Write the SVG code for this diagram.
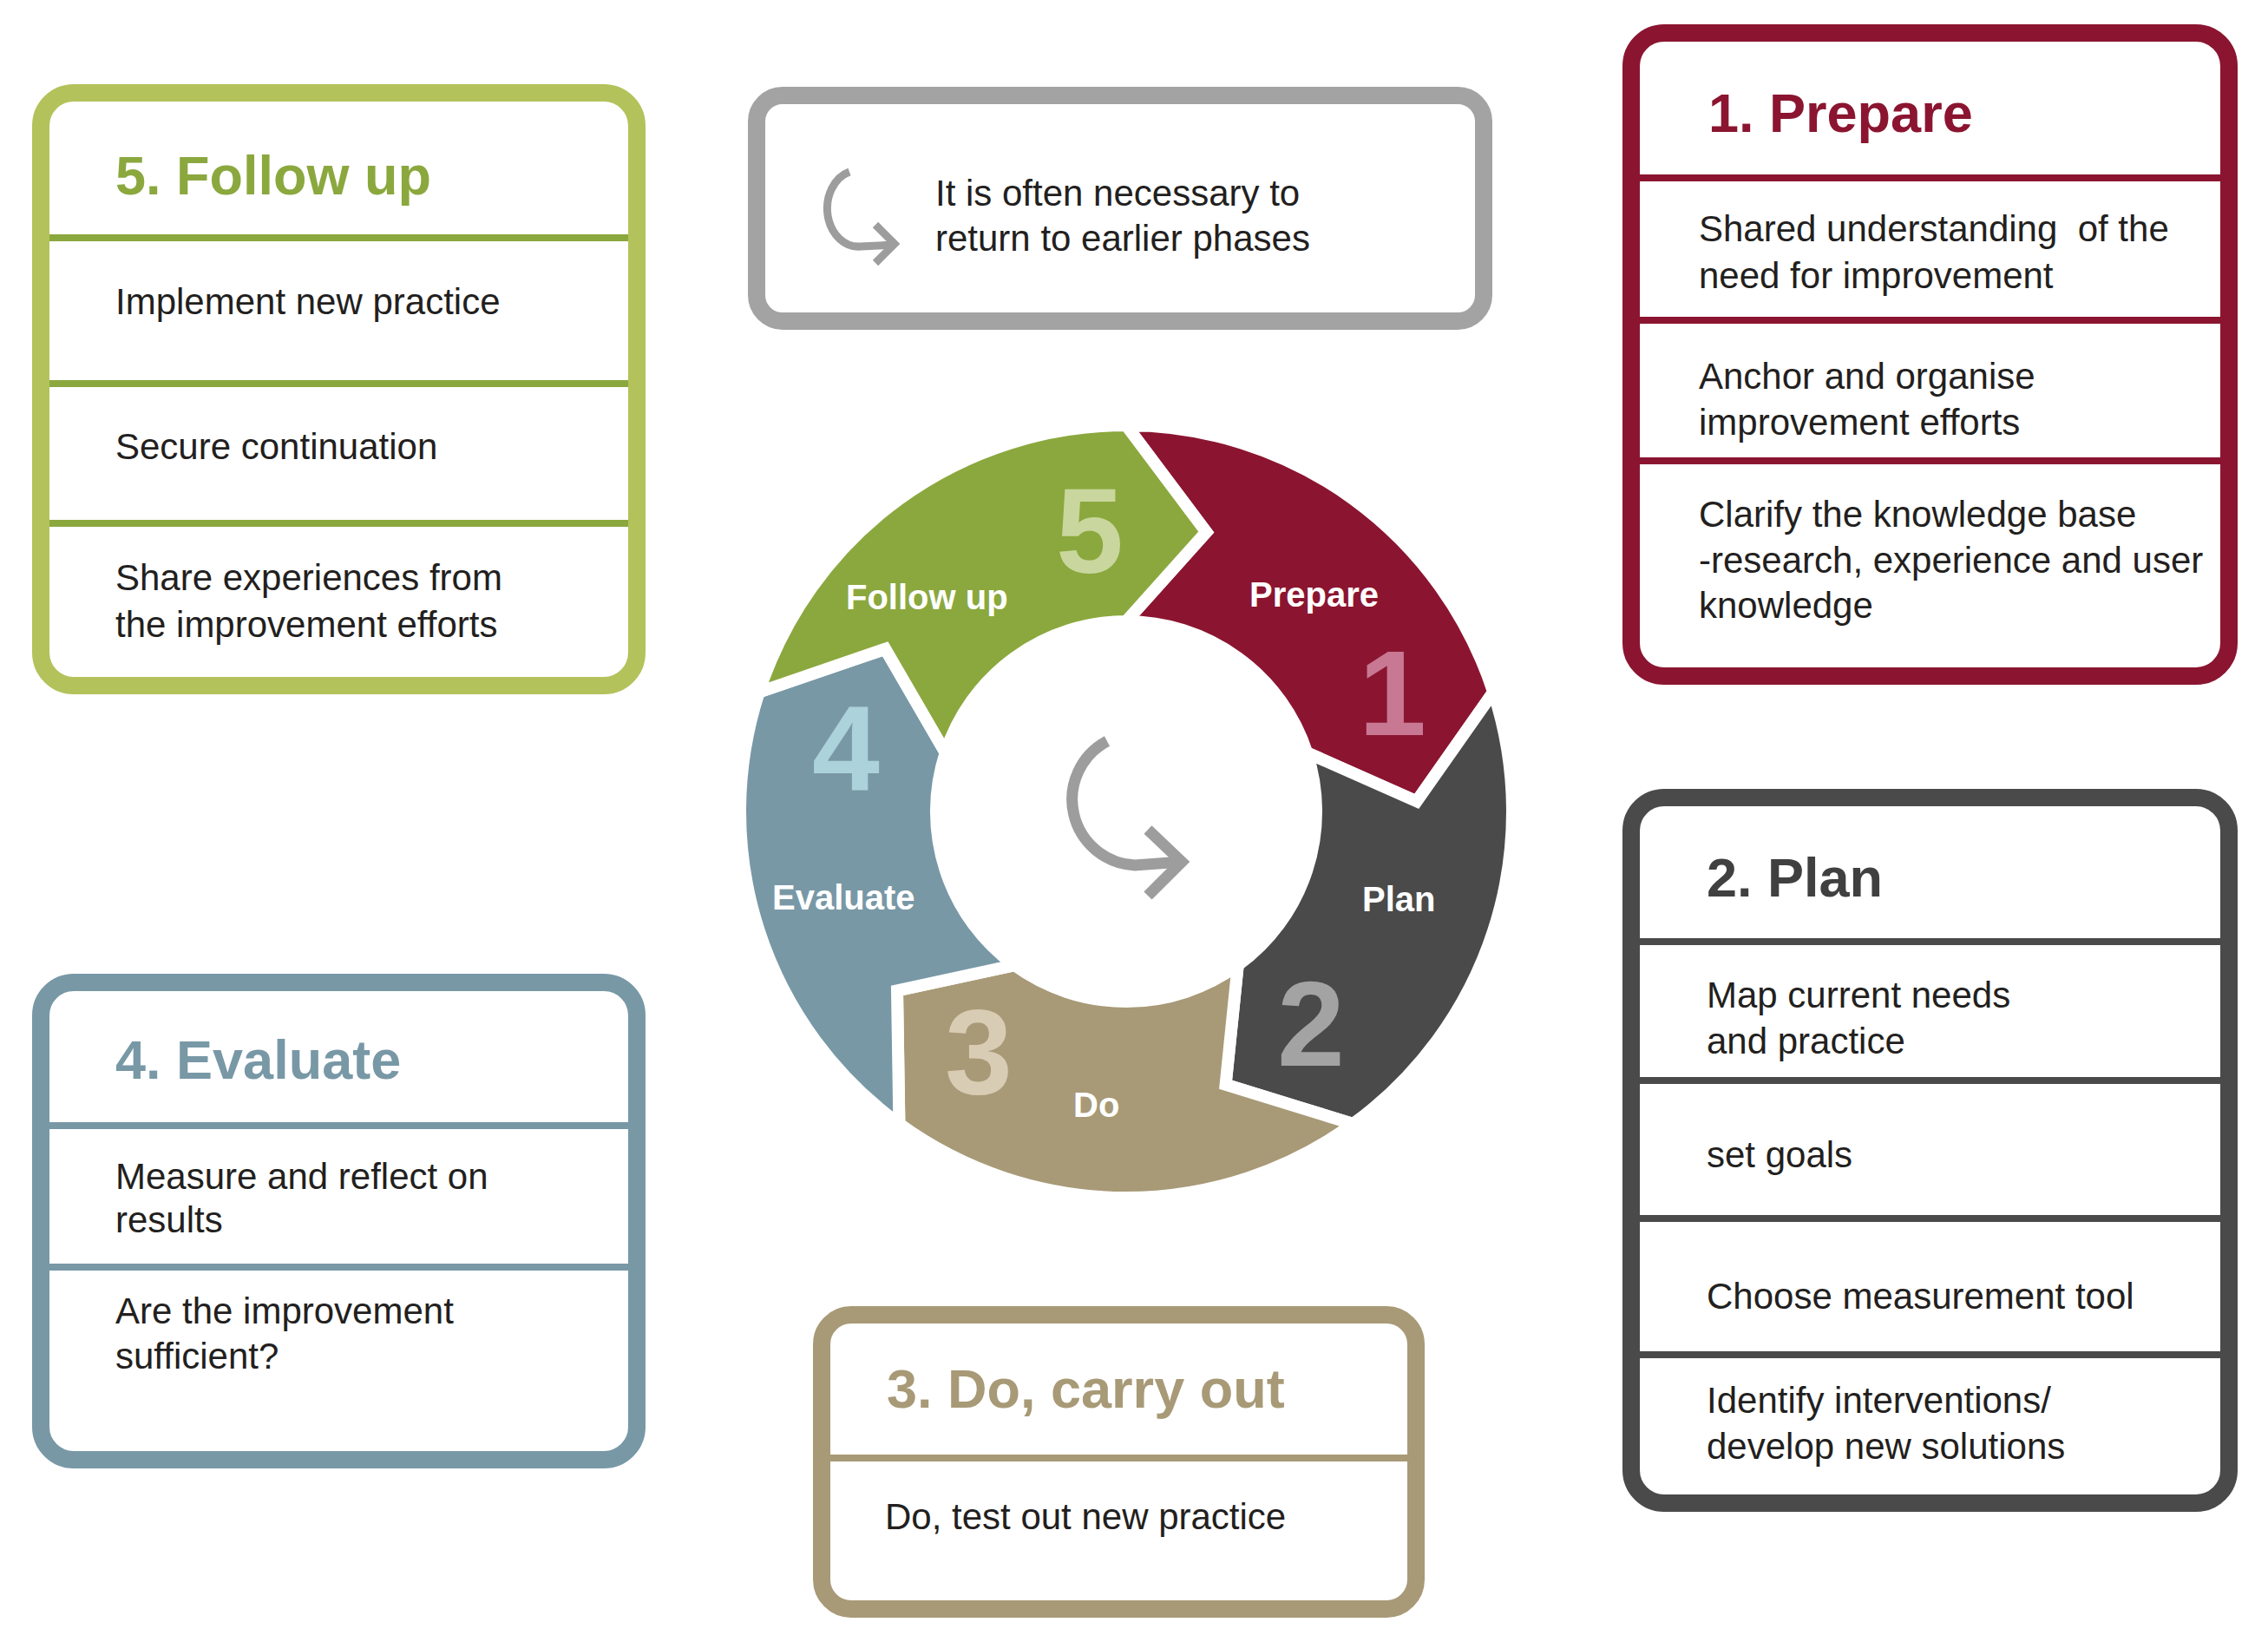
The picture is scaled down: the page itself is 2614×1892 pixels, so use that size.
<svg xmlns="http://www.w3.org/2000/svg" width="2614" height="1892" viewBox="0 0 2614 1892">
<defs>
<style>
.box{fill:#ffffff;stroke-width:20}
.div{stroke-width:8}
.h{font-family:"Liberation Sans",Arial,sans-serif;font-weight:bold;font-size:63px}
.t{font-family:"Liberation Sans",Arial,sans-serif;font-size:42px;fill:#231f20}
.seg{stroke:#ffffff;stroke-width:14;stroke-linejoin:miter}
.lbl{font-family:"Liberation Sans",Arial,sans-serif;font-weight:bold;font-size:40px;fill:#ffffff}
.num{font-family:"Liberation Sans",Arial,sans-serif;font-weight:bold;font-size:140px;text-anchor:middle}
.arr{fill:none;stroke:#9d9d9d;stroke-linecap:butt;stroke-linejoin:miter}
</style>
</defs>
<rect width="2614" height="1892" fill="#ffffff"/>

<g id="note">
<rect class="box" x="872" y="110" width="838" height="260" rx="30" stroke="#a3a3a3"/>
<path class="arr" stroke-width="9" d="M979,198 A36,44 0 0 0 992,284 L1030,282"/>
<path class="arr" stroke-width="9" d="M1009,259 L1031,281 L1009,303"/>
<text class="t" x="1078" y="237">It is often necessary to</text>
<text class="t" x="1078" y="289">return to earlier phases</text>
</g>

<g id="box-followup">
<rect class="box" x="47" y="107" width="687" height="683" rx="38" stroke="#b3c25b"/>
<g stroke="#8ba83e" class="div">
<line x1="57" y1="274" x2="724" y2="274"/>
<line x1="57" y1="442" x2="724" y2="442"/>
<line x1="57" y1="603" x2="724" y2="603"/>
</g>
<text class="h" x="133" y="224" fill="#8ba83e">5. Follow up</text>
<text class="t" x="133" y="362">Implement new practice</text>
<text class="t" x="133" y="529">Secure continuation</text>
<text class="t" x="133" y="680">Share experiences from</text>
<text class="t" x="133" y="734">the improvement efforts</text>
</g>

<g id="box-prepare">
<rect class="box" x="1880" y="38" width="689" height="741" rx="38" stroke="#8b1530"/>
<g stroke="#8b1530" class="div">
<line x1="1890" y1="205" x2="2559" y2="205"/>
<line x1="1890" y1="369" x2="2559" y2="369"/>
<line x1="1890" y1="531" x2="2559" y2="531"/>
</g>
<text class="h" x="1969" y="152" fill="#8b1530">1. Prepare</text>
<text class="t" x="1958" y="278">Shared understanding&#160; of the</text>
<text class="t" x="1958" y="332">need for improvement</text>
<text class="t" x="1958" y="448">Anchor and organise</text>
<text class="t" x="1958" y="501">improvement efforts</text>
<text class="t" x="1958" y="607">Clarify the knowledge base</text>
<text class="t" x="1958" y="660">-research, experience and user</text>
<text class="t" x="1958" y="712">knowledge</text>
</g>

<g id="box-plan">
<rect class="box" x="1880" y="919" width="689" height="813" rx="38" stroke="#4a4a4a"/>
<g stroke="#4a4a4a" class="div">
<line x1="1890" y1="1085" x2="2559" y2="1085"/>
<line x1="1890" y1="1245" x2="2559" y2="1245"/>
<line x1="1890" y1="1404" x2="2559" y2="1404"/>
<line x1="1890" y1="1561" x2="2559" y2="1561"/>
</g>
<text class="h" x="1967" y="1033" fill="#404040">2. Plan</text>
<text class="t" x="1967" y="1161">Map current needs</text>
<text class="t" x="1967" y="1214">and practice</text>
<text class="t" x="1967" y="1345">set goals</text>
<text class="t" x="1967" y="1508">Choose measurement tool</text>
<text class="t" x="1967" y="1628">Identify interventions/</text>
<text class="t" x="1967" y="1681">develop new solutions</text>
</g>

<g id="box-evaluate">
<rect class="box" x="47" y="1132" width="687" height="550" rx="38" stroke="#7898a6"/>
<g stroke="#7898a6" class="div">
<line x1="57" y1="1297" x2="724" y2="1297"/>
<line x1="57" y1="1460" x2="724" y2="1460"/>
</g>
<text class="h" x="133" y="1243" fill="#7898a6">4. Evaluate</text>
<text class="t" x="133" y="1370">Measure and reflect on</text>
<text class="t" x="133" y="1420">results</text>
<text class="t" x="133" y="1525">Are the improvement</text>
<text class="t" x="133" y="1577">sufficient?</text>
</g>

<g id="box-do">
<rect class="box" x="947" y="1515" width="685" height="339" rx="34" stroke="#a89a77"/>
<line class="div" stroke="#a89a77" x1="957" y1="1680" x2="1622" y2="1680"/>
<text class="h" x="1022" y="1622" fill="#a89a77">3. Do, carry out</text>
<text class="t" x="1020" y="1762">Do, test out new practice</text>
</g>

<g id="wheel">
<g id="seg-prepare">
<path class="seg" fill="#8b1530" d="M1298,490 A445,445 0 0 1 1721.2,797.5 L1632.8,923.3 L1506.3,867.3 A219,219 0 0 0 1298,716 L1390.3,613 Z"/>
<text class="lbl" x="1440" y="699">Prepare</text>
<text class="num" x="1605" y="847" fill="#c87893">1</text>
</g>
<g id="seg-plan">
<path class="seg" fill="#4a4a4a" d="M1721.2,797.5 A445,445 0 0 1 1559.6,1295 L1412.6,1249.8 L1426.7,1112.2 A219,219 0 0 0 1506.3,867.3 L1632.8,923.3 Z"/>
<text class="lbl" x="1570" y="1050">Plan</text>
<text class="num" x="1511" y="1228" fill="#a3a3a3">2</text>
</g>
<g id="seg-do">
<path class="seg" fill="#a89a77" d="M1559.6,1295 A445,445 0 0 1 1036.4,1295 L1034,1141.3 L1169.3,1112.2 A219,219 0 0 0 1426.7,1112.2 L1412.6,1249.8 Z"/>
<text class="lbl" x="1237" y="1287">Do</text>
<text class="num" x="1128" y="1260" fill="#d9ccb4">3</text>
</g>
<g id="seg-evaluate">
<path class="seg" fill="#7898a6" d="M1036.4,1295 A445,445 0 0 1 874.8,797.5 L1020.3,747.7 L1089.7,867.3 A219,219 0 0 0 1169.3,1112.2 L1034,1141.3 Z"/>
<text class="lbl" x="890" y="1048">Evaluate</text>
<text class="num" x="975" y="911" fill="#acd2dc">4</text>
</g>
<g id="seg-followup">
<path class="seg" fill="#8ba83e" d="M874.8,797.5 A445,445 0 0 1 1298,490 L1390.3,613 L1298,716 A219,219 0 0 0 1089.7,867.3 L1020.3,747.7 Z"/>
<text class="lbl" x="975" y="702">Follow up</text>
<text class="num" x="1256" y="660" fill="#c9d79e">5</text>
</g>
</g>

<g id="connectors">
<path class="arr" stroke-width="13" d="M1276,854 A76,76 0 0 0 1308,997 L1362,993"/>
<path class="arr" stroke-width="13" d="M1323,956 L1362,993 L1323,1032"/>
</g>
</svg>
